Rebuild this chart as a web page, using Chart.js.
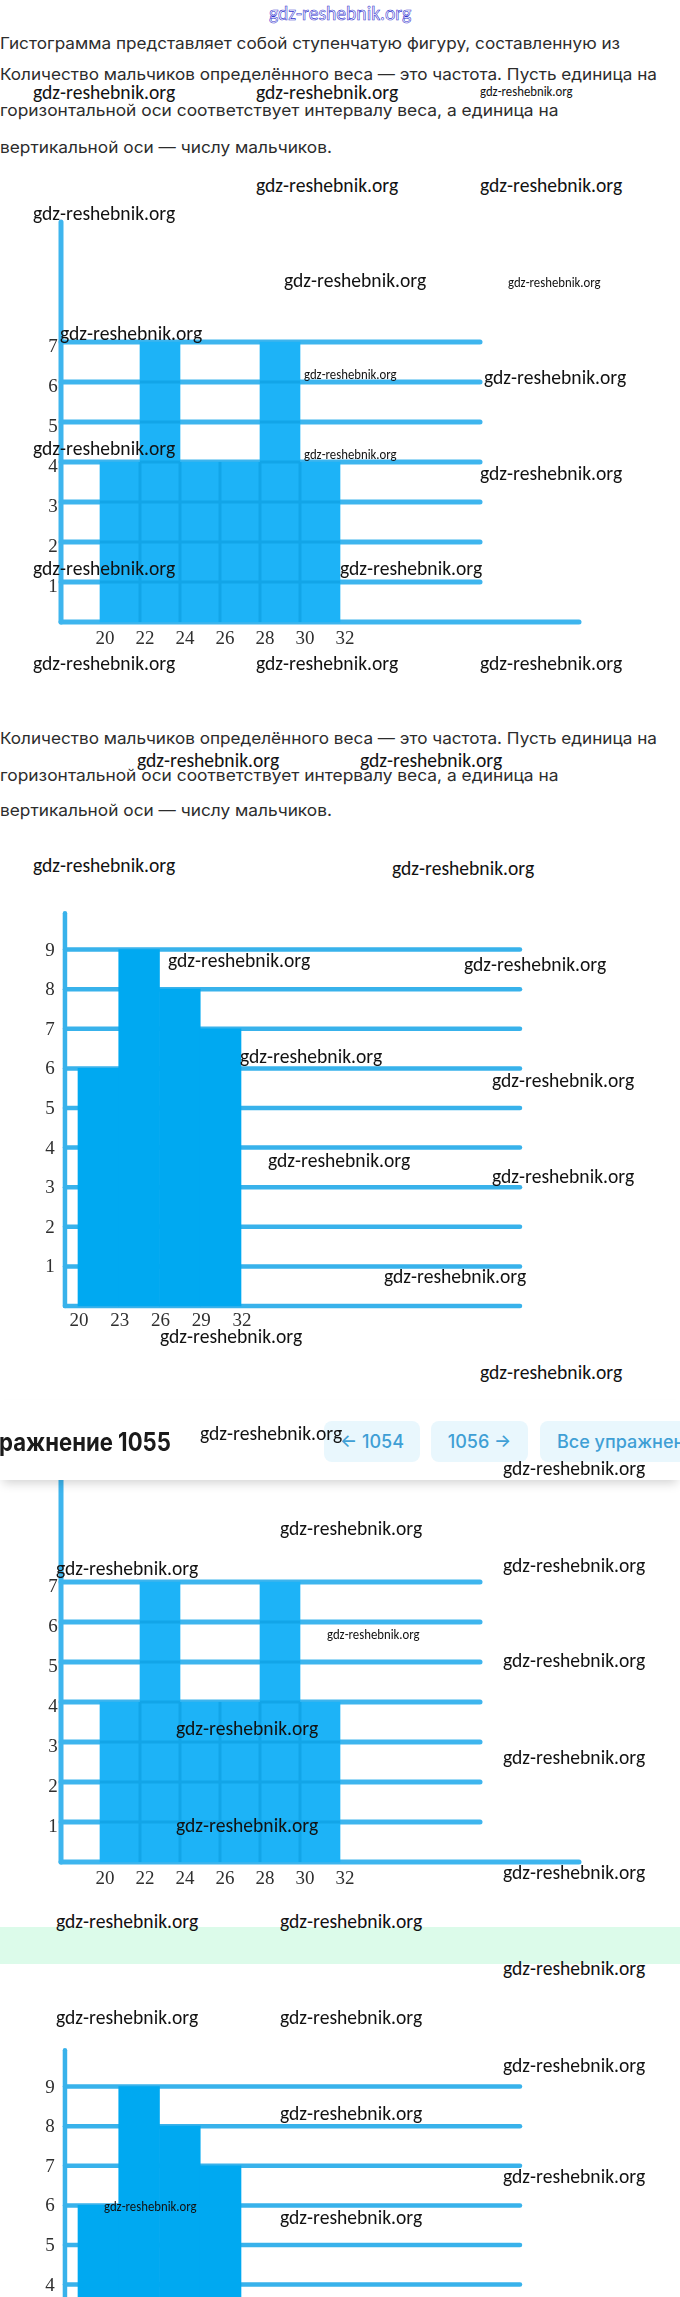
<!DOCTYPE html>
<html lang="ru">
<head>
<meta charset="UTF-8">
<meta name="viewport" content="width=device-width, initial-scale=1.0">
<title>Упражнение 1055 — гистограммы</title>
<script src="https://cdn.jsdelivr.net/npm/chart.js"></script>
<style>
    html, body { margin: 0; padding: 0; background: #fff; }
    body { width: 680px; height: 2297px; overflow: hidden; position: relative; }
    canvas { position: absolute; left: 0; z-index: 1; }
    .t { position: absolute; white-space: nowrap; line-height: 1; transform-origin: 0 50%; }
    .p { font-family: Inter, Roboto, sans-serif; font-size: 16.5px; color: #2c2c2c; z-index: 2; }
    .wm { font-family: Carlito, Lato, sans-serif; font-size: 20px; color: #111; z-index: 20; }
    .wm.s { font-size: 14px; }
    .wm.top { color: #ffffff; -webkit-text-stroke: 0.6px #3434cf; font-size: 20px; }
    #header { position: absolute; left: 0; top: 1400px; width: 680px; height: 80px; background: #fff;
              box-shadow: 0 6px 10px -3px rgba(0,0,0,0.18); z-index: 10; }
    .title { font-family: Inter, Roboto, sans-serif; font-weight: 700; font-size: 25px; color: #1a1a1a; }
    .btn { position: absolute; top: 21px; height: 41px; border-radius: 8px; background: #e9f7fd;
           font-family: Inter, Roboto, sans-serif; font-size: 18px; font-weight: 500; color: #3f9fd5;
           display: flex; align-items: center; justify-content: center; white-space: nowrap; }
    .btn.left { justify-content: flex-start; padding-left: 17px; box-sizing: border-box; }
    #band { position: absolute; left: 0; top: 1927px; width: 680px; height: 37px; background: #dcfbea; z-index: 0; }
</style>
</head>
<body>

<div class="t wm top" data-x="269" data-y="13" data-w="142">gdz-reshebnik.org</div>

<div class="t p" data-x="0" data-y="43" data-w="620">Гистограмма представляет собой ступенчатую фигуру, составленную из</div>
<div class="t p" data-x="0" data-y="74" data-w="657">Количество мальчиков определённого веса — это частота. Пусть единица на</div>
<div class="t p" data-x="0" data-y="110" data-w="559">горизонтальной оси соответствует интервалу веса, а единица на</div>
<div class="t p" data-x="0" data-y="147" data-w="332">вертикальной оси — числу мальчиков.</div>

<canvas id="hist1" width="680" height="460" style="top:200px"></canvas>

<div class="t p" data-x="0" data-y="738" data-w="657">Количество мальчиков определённого веса — это частота. Пусть единица на</div>
<div class="t p" data-x="0" data-y="775" data-w="559">горизонтальной оси соответствует интервалу веса, а единица на</div>
<div class="t p" data-x="0" data-y="810" data-w="332">вертикальной оси — числу мальчиков.</div>

<canvas id="hist2" width="680" height="460" style="top:890px"></canvas>

<div id="header">
    <div class="t title" data-x="-29" data-y="42" data-w="200">Упражнение 1055</div>
    <div class="btn" style="left:324px;width:96px">← 1054</div>
    <div class="btn" style="left:431px;width:97px">1056 →</div>
    <div class="btn left" style="left:540px;width:200px">Все упражнения</div>
</div>

<canvas id="hist3" width="680" height="460" style="top:1440px"></canvas>
<div id="band"></div>
<canvas id="hist4" width="680" height="460" style="top:2027px"></canvas>

<div id="marks"></div>

<script>
    // Задача 1: вес (интервалы по 2), число мальчиков
    const bins1 = [20, 22, 24, 26, 28, 30, 32];
    const counts1 = [4, 7, 4, 4, 7, 4];
    const yTicks1 = [1, 2, 3, 4, 5, 6, 7];

    // Задача 2: интервалы по 3
    const bins2 = [20, 23, 26, 29, 32];
    const counts2 = [6, 9, 8, 7];
    const yTicks2 = [1, 2, 3, 4, 5, 6, 7, 8, 9];

    // layout of each picture (scale ranges chosen so it sits where the scan has it)
    const styleA = {
        xMin: 15, xMax: 49, yMin: -0.95, yMax: 10.55,
        axisX: 18.05, axisTop: 10, gridEnd: 39, baseEnd: 43.95,
        barColor: '#1db3f7', gridColor: '#3eb5ee', innerColor: '#12a5e8',
        gridWidth: 5, axisWidth: 5,
        yLabelDx: -8, yLabelDy: 5, xLabelDx: 5, xLabelDy: 17
    };
    const styleB = {
        xMin: 14.258, xMax: 64.32, yMin: -1.111, yMax: 10.505,
        axisX: 19.04, axisTop: 9.92, gridEnd: 52.54, baseEnd: 52.54,
        barColor: '#00a9f1', gridColor: '#38b2eb', innerColor: null,
        gridWidth: 4.5, axisWidth: 4.5,
        yLabelDx: -15, yLabelDy: 1, xLabelDx: 1, xLabelDy: 15
    };

    function line(ctx, x1, y1, x2, y2) {
        ctx.beginPath();
        ctx.moveTo(x1, y1);
        ctx.lineTo(x2, y2);
        ctx.stroke();
    }

    function makeHist(id, bins, counts, yTicks, o) {
        const bars = counts.map((c, i) => ({ x: (bins[i] + bins[i + 1]) / 2, y: c }));

        // grid, axes and labels drawn through the chart's scales
        const axesPlugin = {
            id: 'histAxes',
            beforeDatasetsDraw(chart) {
                const { ctx, scales: { x, y } } = chart;
                ctx.save();
                ctx.lineCap = 'round';
                ctx.strokeStyle = o.gridColor;
                ctx.lineWidth = o.gridWidth;
                yTicks.forEach(t => line(ctx, x.getPixelForValue(o.axisX), y.getPixelForValue(t),
                                              x.getPixelForValue(o.gridEnd), y.getPixelForValue(t)));
                line(ctx, x.getPixelForValue(o.axisX), y.getPixelForValue(0),
                          x.getPixelForValue(o.baseEnd), y.getPixelForValue(0));
                ctx.restore();
            },
            afterDatasetsDraw(chart) {
                const { ctx, scales: { x, y } } = chart;
                ctx.save();
                if (o.innerColor) {
                    // the grid shows through the bars a little darker
                    ctx.strokeStyle = o.innerColor;
                    ctx.lineWidth = 3;
                    counts.forEach((c, i) => {
                        yTicks.filter(t => t < c).forEach(t =>
                            line(ctx, x.getPixelForValue(bins[i]), y.getPixelForValue(t),
                                      x.getPixelForValue(bins[i + 1]), y.getPixelForValue(t)));
                        if (i > 0) {
                            line(ctx, x.getPixelForValue(bins[i]), y.getPixelForValue(0),
                                      x.getPixelForValue(bins[i]), y.getPixelForValue(Math.min(c, counts[i - 1])));
                        }
                    });
                }
                // vertical axis
                ctx.lineCap = 'round';
                ctx.strokeStyle = o.gridColor;
                ctx.lineWidth = o.axisWidth;
                line(ctx, x.getPixelForValue(o.axisX), y.getPixelForValue(0),
                          x.getPixelForValue(o.axisX), y.getPixelForValue(o.axisTop));

                ctx.fillStyle = '#2f2f2f';
                ctx.font = '19px "Liberation Serif", "Times New Roman", serif';
                ctx.textAlign = 'center';
                ctx.textBaseline = 'middle';
                yTicks.forEach(t => ctx.fillText(String(t),
                    x.getPixelForValue(o.axisX) + o.yLabelDx, y.getPixelForValue(t) + o.yLabelDy));
                bins.forEach(b => ctx.fillText(String(b),
                    x.getPixelForValue(b) + o.xLabelDx, y.getPixelForValue(0) + o.xLabelDy));
                ctx.restore();
            }
        };

        return new Chart(document.getElementById(id), {
            type: 'bar',
            data: {
                datasets: [{
                    data: bars,
                    backgroundColor: o.barColor,
                    borderWidth: 0,
                    barPercentage: 1,
                    categoryPercentage: 1
                }]
            },
            options: {
                responsive: false,
                animation: false,
                events: [],
                layout: { padding: 0 },
                plugins: { legend: { display: false }, tooltip: { enabled: false } },
                scales: {
                    x: { type: 'linear', min: o.xMin, max: o.xMax, offset: false, display: false },
                    y: { min: o.yMin, max: o.yMax, display: false }
                }
            },
            plugins: [axesPlugin]
        });
    }

    makeHist('hist1', bins1, counts1, yTicks1, styleA);
    makeHist('hist2', bins2, counts2, yTicks2, styleB);
    makeHist('hist3', bins1, counts1, yTicks1, styleA);
    makeHist('hist4', bins2, counts2, yTicks2, styleB);

    // watermarks of the scan: left x, centre y, small?
    const marks = [
        [33, 92], [256, 92], [480, 92, 's'],
        [256, 185], [480, 185], [33, 213],
        [284, 280], [508, 283, 's'], [60, 333],
        [304, 375, 's'], [484, 377], [33, 448], [304, 455, 's'], [480, 473],
        [33, 568], [340, 568], [33, 663], [256, 663], [480, 663],
        [137, 760], [360, 760], [33, 865], [392, 868],
        [168, 960], [464, 964], [240, 1056], [492, 1080], [268, 1160], [492, 1176],
        [384, 1276], [160, 1336], [480, 1372],
        [200, 1433], [503, 1468],
        [280, 1528], [503, 1565], [56, 1568], [327, 1635, 's'], [503, 1660],
        [176, 1728], [503, 1757], [176, 1825], [503, 1872],
        [56, 1921], [280, 1921], [503, 1968], [56, 2017], [280, 2017],
        [503, 2065], [280, 2113], [503, 2176], [104, 2207, 's'], [280, 2217]
    ];
    const box = document.getElementById('marks');
    marks.forEach(([mx, my, small]) => {
        const d = document.createElement('div');
        d.className = 't wm' + (small ? ' s' : '');
        d.textContent = 'gdz-reshebnik.org';
        d.dataset.x = mx;
        d.dataset.y = my;
        d.dataset.w = small ? 93 : 142;
        box.appendChild(d);
    });

    function placeAll() {
        document.querySelectorAll('.t').forEach(el => {
            const w = +el.dataset.w;
            el.style.left = el.dataset.x + 'px';
            el.style.top = (+el.dataset.y - el.offsetHeight / 2) + 'px';
            if (w) el.style.transform = 'scaleX(' + (w / el.offsetWidth) + ')';
        });
    }
    placeAll();
    if (document.fonts) document.fonts.ready.then(placeAll);
</script>
</body>
</html>
